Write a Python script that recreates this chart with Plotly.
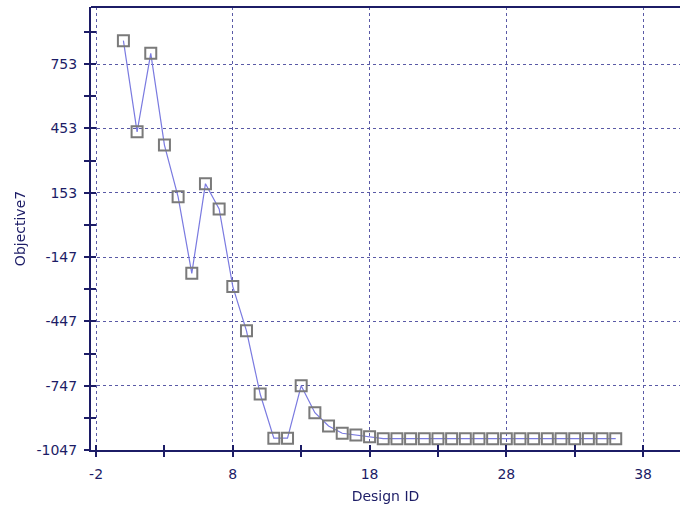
import plotly.graph_objects as go

design_id = list(range(0, 37))
objective7 = [862, 437, 803, 375, 134, -223, 195, 77, -285, -491,
              -786, -992, -992, -747, -873, -935, -969, -977, -985,
              -994, -994, -994, -994, -994, -994, -994, -994, -994,
              -994, -994, -994, -994, -994, -994, -994, -994, -994]

x_tickvals = [-2, 8, 18, 28, 38]
x_ticktext = ["-2", "8", "18", "28", "38"]
y_tickvals = [-1047, -747, -447, -147, 153, 453, 753]
y_ticktext = ["-1047", "-747", "-447", "-147", "153", "453", "753"]

navy = "#1c1c66"
gridc = "#5a5aa6"
font = dict(family="DejaVu Sans", size=14, color=navy)

fig = go.Figure()
fig.add_trace(go.Scatter(
    x=design_id, y=objective7, mode="lines+markers",
    line=dict(color="#7a7ae0", width=1.2),
    marker=dict(symbol="square-open", size=11, color="#7a7a7a",
                line=dict(width=2, color="#7a7a7a")),
    showlegend=False, hoverinfo="x+y"))
# invisible companion trace on a second, identical subplot used for the
# inner half of the crossing tick marks
fig.add_trace(go.Scatter(
    x=design_id, y=objective7, mode="markers", opacity=0,
    xaxis="x2", yaxis="y2", showlegend=False, hoverinfo="skip"))

xr = [-2.37, 40.7]
yr = [-1047, 1019]
tick_common = dict(ticklen=5, tickwidth=2, tickcolor=navy)

fig.update_layout(
    width=681, height=509,
    margin=dict(l=91, r=1, t=7, b=59),
    paper_bgcolor="white", plot_bgcolor="rgba(0,0,0,0)",
    font=font,
    xaxis=dict(
        domain=[0, 1], anchor="y",
        range=xr, showline=True, linecolor=navy, linewidth=2, mirror=False,
        ticks="outside", **tick_common,
        tickmode="array", tickvals=x_tickvals, ticktext=x_ticktext,
        ticklabelstandoff=5,
        minor=dict(ticks="outside", tick0=-2, dtick=5, ticklen=5,
                   tickwidth=2, tickcolor=navy, showgrid=False),
        showgrid=True, gridcolor=gridc, gridwidth=1, griddash="3px,3px",
        zeroline=False, tickfont=font,
        title=dict(text="Design ID", font=font, standoff=10)),
    yaxis=dict(
        domain=[0, 1], anchor="x",
        range=yr, showline=True, linecolor=navy, linewidth=2, mirror=False,
        ticks="outside", **tick_common,
        tickmode="array", tickvals=y_tickvals, ticktext=y_ticktext,
        ticklabelstandoff=4,
        minor=dict(ticks="outside", tick0=-1047, dtick=150, ticklen=5,
                   tickwidth=2, tickcolor=navy, showgrid=False),
        showgrid=True, gridcolor=gridc, gridwidth=1, griddash="3px,3px",
        zeroline=False, tickfont=font,
        title=dict(text="Objective7", font=font, standoff=8)),
    xaxis2=dict(
        domain=[0, 1], anchor="y2", side="bottom",
        range=xr, ticks="inside", **tick_common,
        tickmode="array", tickvals=x_tickvals, showticklabels=False,
        minor=dict(ticks="inside", tick0=-2, dtick=5, ticklen=5,
                   tickwidth=2, tickcolor=navy, showgrid=False),
        showgrid=False, showline=False, zeroline=False),
    yaxis2=dict(
        domain=[0, 1], anchor="x2", side="left",
        range=yr, ticks="inside", **tick_common,
        tickmode="array", tickvals=y_tickvals, showticklabels=False,
        minor=dict(ticks="inside", tick0=-1047, dtick=150, ticklen=5,
                   tickwidth=2, tickcolor=navy, showgrid=False),
        showgrid=False, showline=False, zeroline=False),
    shapes=[dict(type="line", xref="paper", yref="paper",
                 x0=0, x1=1, y0=1, y1=1,
                 line=dict(color=navy, width=2))],
)

fig.write_html("out.html")
